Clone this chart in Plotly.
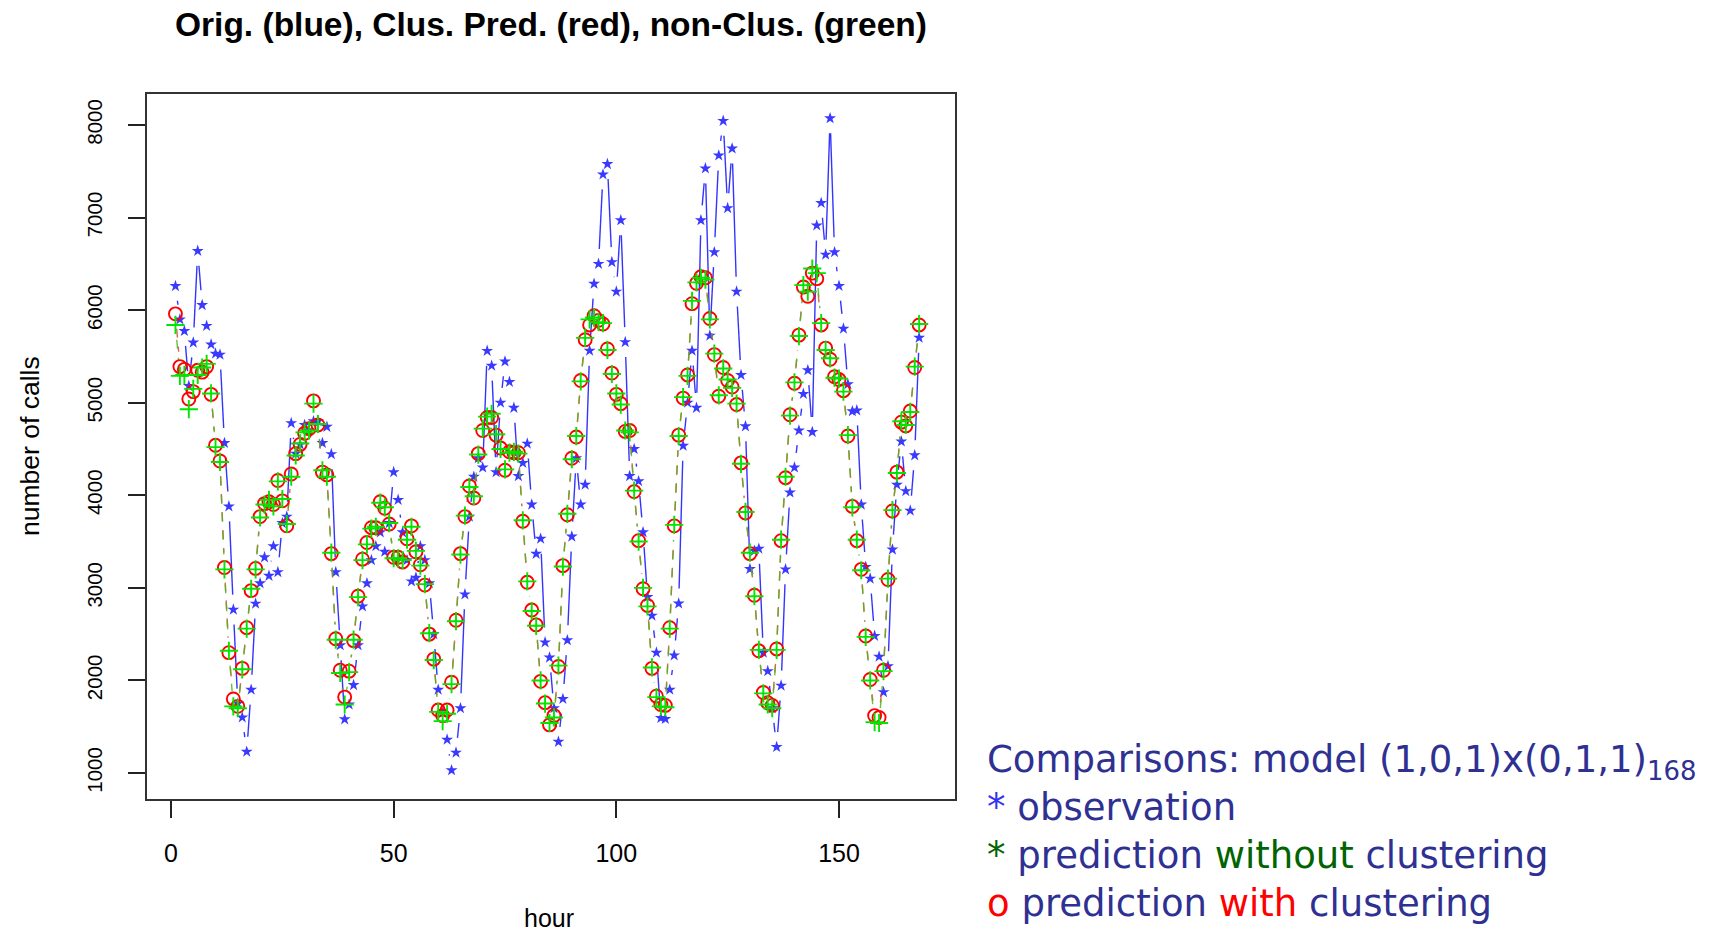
import math
import plotly.graph_objects as go

hours = list(range(1, 169))

observed = [
    6260, 5900, 5775, 5180, 5650, 6640, 6055, 5830, 5630, 5530, 5520, 4565,
    3880, 2765, 1750, 1600, 1230, 1900, 2830, 3050, 3330, 3130, 3450, 3170,
    3700, 3770, 4780, 4450, 4550, 4760, 4700, 4800, 4800, 4565, 4740, 4445,
    3170, 2380, 1580, 1740, 1950, 2380, 2800, 3050, 3300, 3450, 3600, 3390,
    3700, 4250, 3950, 3600, 3300, 3070, 3110, 3450, 3300, 3050, 2500, 1900,
    1650, 1360, 1030, 1220, 1700, 2930, 3770, 4200, 4400, 4300, 5560, 5400,
    4250, 5000, 5445, 5225, 4945, 4208, 4350, 4558, 3900, 3368, 3531, 2411,
    2247, 1700, 1337, 1800, 2434, 3554, 4400, 3900, 4115, 5562, 6285, 6500,
    7466, 7578, 6519, 6200, 6971, 5655, 4208, 4500, 4152, 3601, 2901, 2700,
    2300, 1594, 1584, 1900, 2271, 2831, 4535, 5000, 5562, 4945, 6971, 7531,
    5725, 6626, 7671, 8045, 7102, 7746, 6200, 5300, 4745, 3204, 3400, 3423,
    2300, 2100, 1700, 1281, 1944, 3200, 4030, 4300, 4700, 5095, 5351, 4684,
    6915, 7158, 6600, 8073, 6626, 6262, 5800, 5200, 4908, 4917, 3900, 3227,
    3100, 2481, 2257, 1874, 2154, 3414, 4115, 4581, 4045, 3834, 4432, 5702,
]

pred_clustered = [
    5960, 5390, 5360, 5040, 5120, 5350, 5330, 5390, 5090, 4540, 4370, 3220,
    2300, 1800, 1720, 2130, 2570, 2970, 3210, 3770, 3910, 3930, 3900, 4160,
    3940, 3670, 4230, 4450, 4550, 4670, 4720, 5020, 4760, 4250, 4220, 3370,
    2450, 2110, 1820, 2100, 2430, 2910, 3310, 3490, 3650, 3650, 3930, 3860,
    3690, 3330, 3330, 3280, 3530, 3670, 3390, 3250, 3030, 2500, 2230, 1680,
    1620, 1680, 1980, 2650, 3370, 3770, 4100, 3970, 4450, 4700, 4840, 4840,
    4650, 4510, 4270, 4470, 4460, 4460, 3720, 3060, 2760, 2600, 1990, 1760,
    1520, 1620, 2150, 3240, 3790, 4400, 4630, 5240, 5680, 5840, 5940, 5890,
    5850, 5580, 5320, 5090, 4990, 4690, 4700, 4040, 3510, 2990, 2810, 2130,
    1830, 1740, 1730, 2570, 3670, 4650, 5050, 5300, 6070, 6290, 6360, 6350,
    5910, 5520, 5070, 5380, 5240, 5170, 4980, 4350, 3810, 3370, 2920, 2320,
    1870, 1760, 1730, 2340, 3510, 4190, 4870, 5210, 5730, 6250, 6150, 6400,
    6340, 5840, 5590, 5470, 5280, 5250, 5130, 4640, 3880, 3510, 3200, 2480,
    2010, 1620, 1600, 2110, 3090, 3830, 4250, 4790, 4750, 4910, 5380, 5840,
]

pred_nonclustered = [
    5840, 5290, 5300, 4930, 5150, 5300, 5380, 5420, 5100, 4520, 4360, 3200,
    2320, 1720, 1700, 2120, 2560, 2990, 3200, 3760, 3900, 3950, 3880, 4150,
    3960, 3690, 4200, 4430, 4560, 4680, 4700, 4990, 4770, 4270, 4200, 3380,
    2440, 2080, 1740, 2090, 2440, 2900, 3300, 3470, 3640, 3660, 3920, 3870,
    3700, 3320, 3320, 3300, 3520, 3660, 3400, 3240, 3040, 2510, 2220, 1660,
    1560, 1640, 1960, 2640, 3360, 3780, 4090, 3990, 4440, 4720, 4850, 4880,
    4660, 4500, 4280, 4460, 4470, 4450, 3730, 3070, 2750, 2590, 2000, 1750,
    1540, 1600, 2160, 3230, 3800, 4390, 4640, 5230, 5700, 5900, 5920, 5870,
    5860, 5570, 5310, 5100, 4980, 4700, 4680, 4050, 3500, 3000, 2800, 2140,
    1820, 1720, 1710, 2560, 3680, 4640, 5060, 5290, 6100, 6300, 6350, 6330,
    5900, 5530, 5080, 5370, 5250, 5160, 4990, 4340, 3820, 3380, 2910, 2330,
    1860, 1740, 1700, 2330, 3520, 4200, 4860, 5220, 5720, 6270, 6200, 6450,
    6400, 5860, 5570, 5480, 5270, 5260, 5120, 4650, 3870, 3520, 3190, 2470,
    2000, 1550, 1540, 2100, 3100, 3840, 4240, 4800, 4760, 4900, 5390, 5850,
]

x_ticks = [0, 50, 100, 150]
y_ticks = [1000, 2000, 3000, 4000, 5000, 6000, 7000, 8000]

title_text = "Orig. (blue), Clus. Pred. (red), non-Clus. (green)"
x_title = "hour"
y_title = "number of calls"
legend_lines = [
    "Comparisons: model (1,0,1)x(0,1,1)<sub>168</sub>",
    "<span style='color:#3434f0'>*</span> observation",
    "<span style='color:#006400'>*</span> prediction <span style='color:#006400'>without</span> clustering",
    "<span style='color:#ff0000'>o</span> prediction <span style='color:#ff0000'>with</span> clustering",
]

# ---- layout geometry (pixels) ----
W, H = 1714, 931
L, R, T, B = 147, 955, 94, 799
PW, PH = R - L, B - T
X_RANGE = [(L - 171) / 4.4533, (R - 171) / 4.4533]
Y_RANGE = [1000 - (B - 773) / 0.092571, 8000 + (125 - T) / 0.092571]
XS = PW / (X_RANGE[1] - X_RANGE[0])
YS = PH / (Y_RANGE[1] - Y_RANGE[0])


def gapped(xs, ys, gx=9.0, gy=15.0):
    """Like R's type='b': segments between points with a gap around each point."""
    ox, oy = [], []
    for i in range(len(xs) - 1):
        x1, y1, x2, y2 = xs[i], ys[i], xs[i + 1], ys[i + 1]
        dxp, dyp = (x2 - x1) * XS, (y2 - y1) * YS
        d = math.hypot(dxp / gx, dyp / gy)
        if d <= 2.0:
            continue
        t = 1.0 / d
        ox += [x1 + t * (x2 - x1), x2 - t * (x2 - x1), None]
        oy += [y1 + t * (y2 - y1), y2 - t * (y2 - y1), None]
    return ox, oy


BLUE = "rgba(30,30,255,0.9)"
RED = "#ff0000"
GREEN = "#00e600"

fig = go.Figure()
bx, by = gapped(hours, observed)
fig.add_trace(go.Scatter(x=bx, y=by, mode="lines", connectgaps=False,
                         line=dict(color=BLUE, width=1.4), hoverinfo="skip"))
fig.add_trace(go.Scatter(x=hours, y=observed, mode="markers",
                         marker=dict(symbol="star", size=9, color="#3a3aff",
                                     line=dict(width=0))))
rx, ry = gapped(hours, pred_clustered)
fig.add_trace(go.Scatter(x=rx, y=ry, mode="lines", connectgaps=False,
                         line=dict(color="rgba(220,60,40,0.8)", width=1.4, dash="dash"),
                         hoverinfo="skip"))
gx_, gy_ = gapped(hours, pred_nonclustered)
fig.add_trace(go.Scatter(x=gx_, y=gy_, mode="lines", connectgaps=False,
                         line=dict(color="rgba(80,180,30,0.85)", width=1.4, dash="dash"),
                         hoverinfo="skip"))
fig.add_trace(go.Scatter(x=hours, y=pred_clustered, mode="markers",
                         marker=dict(symbol="circle-open", size=13, color=RED,
                                     line=dict(width=1.9, color=RED))))
fig.add_trace(go.Scatter(x=hours, y=pred_nonclustered, mode="markers",
                         marker=dict(symbol="cross-thin-open", size=13, color=GREEN,
                                     line=dict(width=1.9, color=GREEN))))


def px(xpix):
    return (xpix - L) / PW


def py(ypix):
    return (B - ypix) / PH


AX_FONT = "Liberation Sans, Arial, sans-serif"
annotations = [
    dict(text="<b>" + title_text + "</b>", x=px(551), y=py(24), xref="paper", yref="paper",
         xanchor="center", yanchor="middle", showarrow=False,
         font=dict(family=AX_FONT, size=33.5, color="#000000")),
    dict(text=x_title, x=px(549), y=py(918), xref="paper", yref="paper",
         xanchor="center", yanchor="middle", showarrow=False,
         font=dict(family=AX_FONT, size=25, color="#000000")),
    dict(text=y_title, x=px(30), y=py(446), xref="paper", yref="paper",
         xanchor="center", yanchor="middle", showarrow=False, textangle=-90,
         font=dict(family=AX_FONT, size=26.5, color="#000000")),
    dict(text="<br>".join(legend_lines), x=px(985), y=py(831), xref="paper", yref="paper",
         xanchor="left", yanchor="middle", align="left", showarrow=False,
         font=dict(family="DejaVu Sans, sans-serif", size=37, color="#2e3192")),
]

fig.update_layout(
    width=W, height=H,
    margin=dict(l=L, r=W - R, t=T, b=H - B, pad=0),
    paper_bgcolor="white", plot_bgcolor="white",
    showlegend=False,
    annotations=annotations,
    xaxis=dict(range=X_RANGE,
               tickvals=x_ticks, ticktext=[str(v) for v in x_ticks],
               ticks="outside", ticklen=17, tickwidth=1.5, tickcolor="#222",
               showgrid=False, zeroline=False,
               showline=True, mirror=True, linecolor="#333", linewidth=2,
               tickfont=dict(family=AX_FONT, size=25, color="#000"),
               ticklabelstandoff=14),
    yaxis=dict(range=Y_RANGE,
               tickvals=y_ticks, ticktext=[str(v) for v in y_ticks],
               ticks="outside", ticklen=17, tickwidth=1.5, tickcolor="#222",
               tickangle=-90,
               showgrid=False, zeroline=False,
               showline=True, mirror=True, linecolor="#333", linewidth=2,
               tickfont=dict(family=AX_FONT, size=20.5, color="#000"),
               ticklabelstandoff=18),
)

fig.write_html("out.html")
